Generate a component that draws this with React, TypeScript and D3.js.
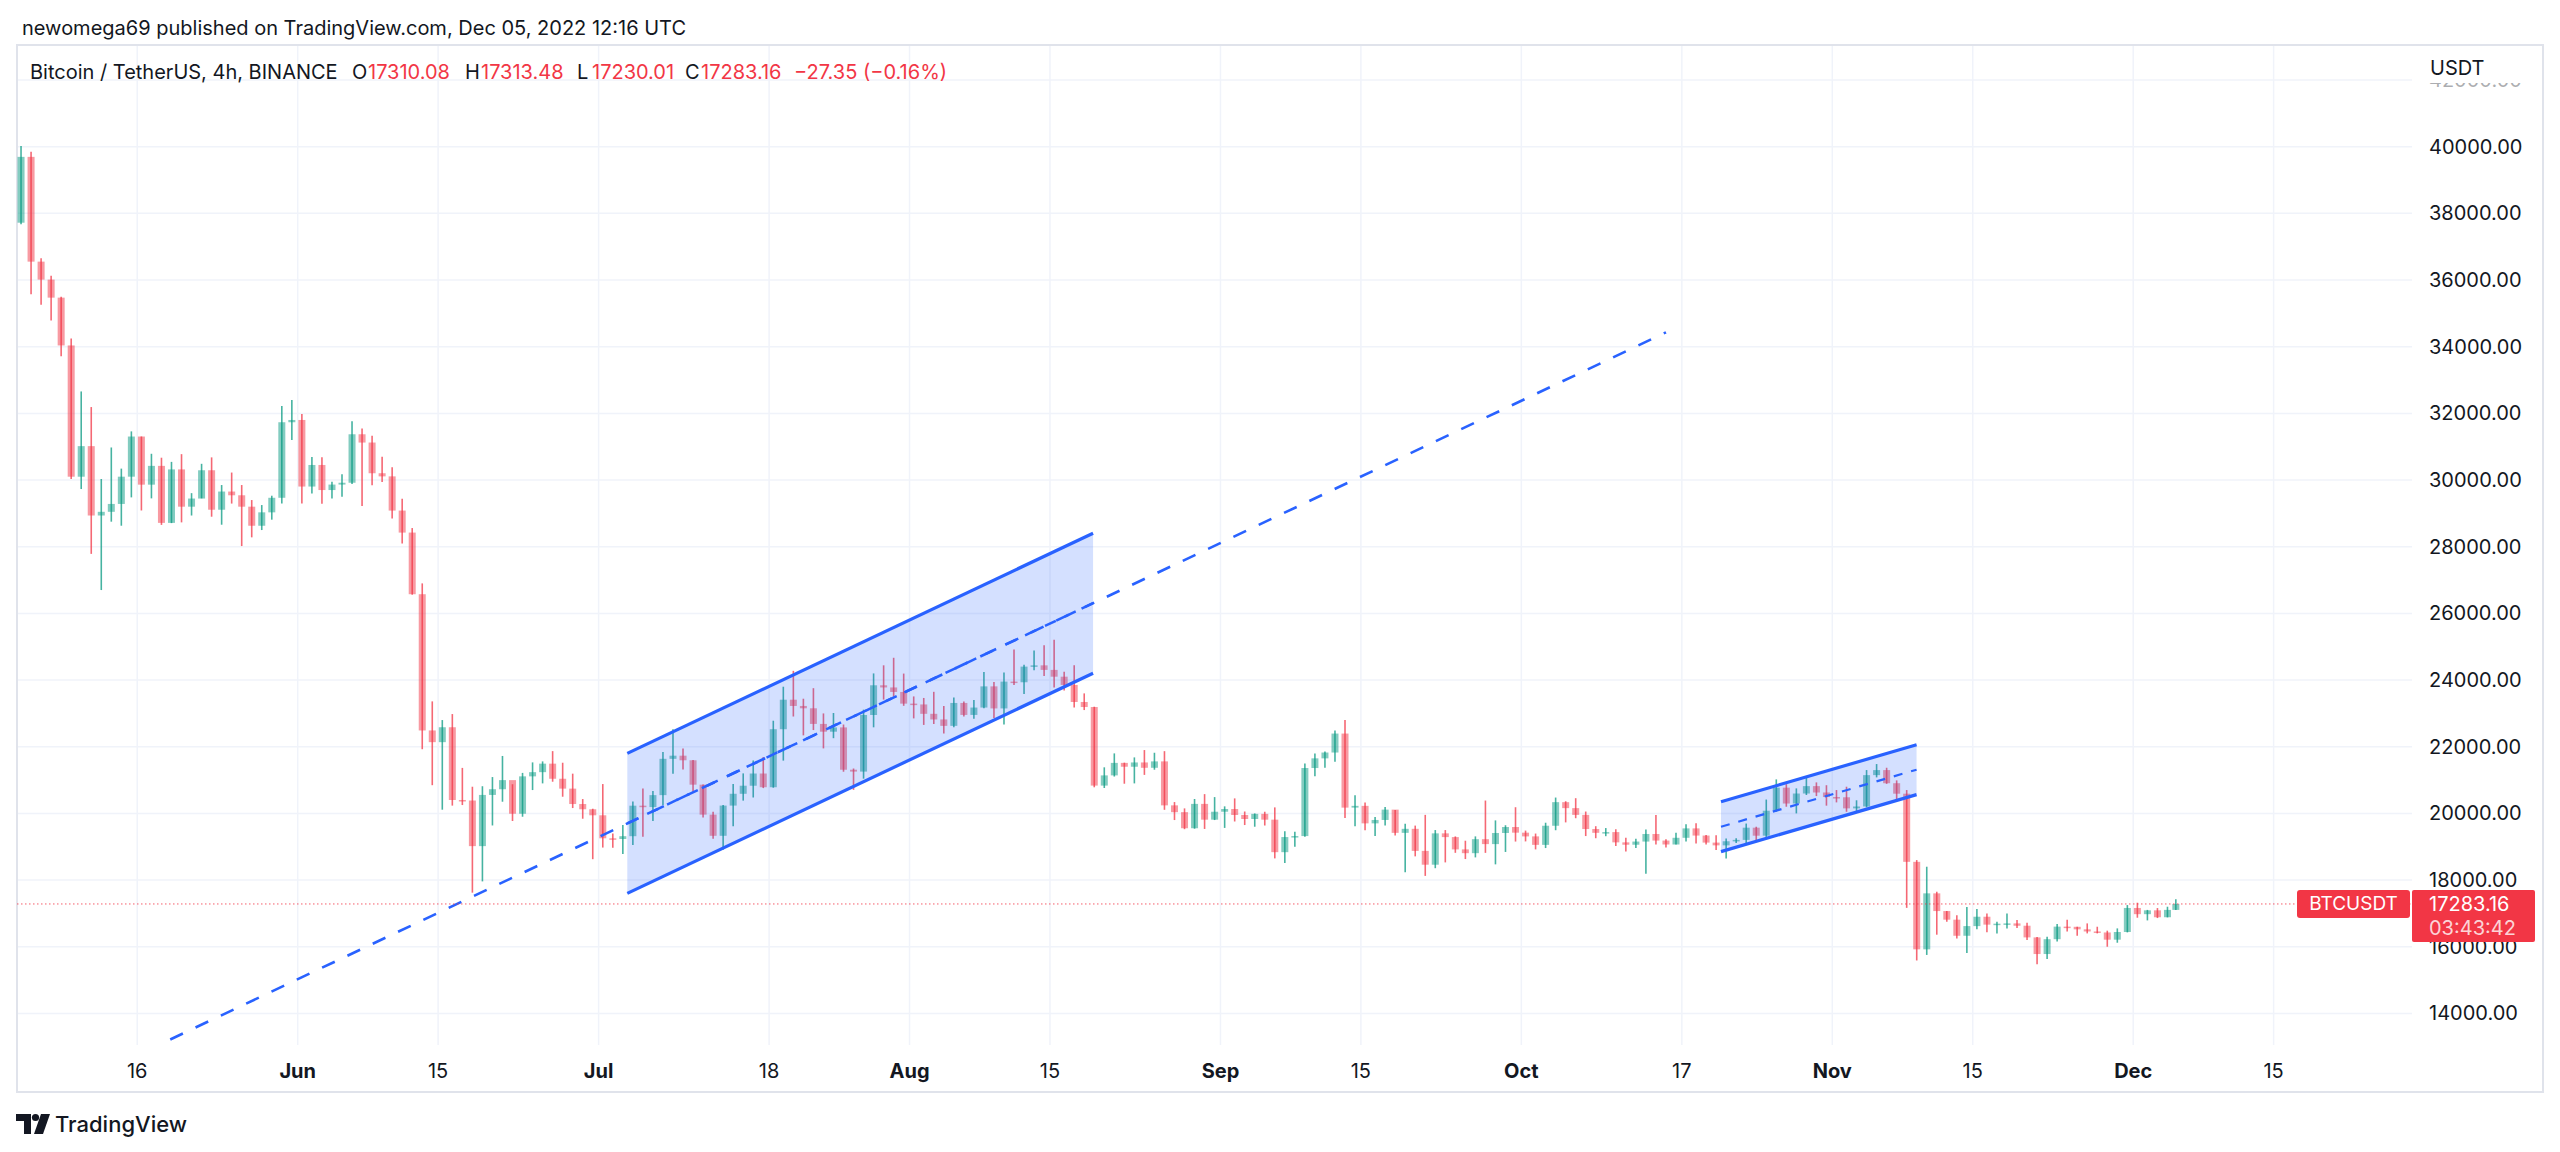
import React from "react";
import * as d3 from "d3";

// ---------- DATA (daily candles) ----------
const START_DATE = "2022-05-04";
const FIRST_OPEN = 37720;
const HIGHS = [
  40023, 39845, 36650, 36130, 35500, 34243, 32658, 32190, 30032, 30977, 30343, 31460, 31308, 30788, 30670, 30545, 30777, 29607, 30487, 30680, 29850, 30225, 29850, 29400, 29250, 29530, 32222, 32400,
  31982, 30690, 30683, 29950, 30176, 31765, 31550, 31327, 30700, 30386, 29440, 28560, 26900, 23360, 22800, 22980, 21365, 20800, 20815, 21090, 21723, 20875, 21215, 21530, 21560, 21868, 21520, 21192, 20430, 20140,
  20880, 19400, 19650, 20354, 20750, 20675, 21838, 22527, 21950, 21600, 20863, 20046, 20250, 20880, 21200, 21588, 21689, 22780, 23800, 24276, 23440, 23756, 22999, 23012, 22666, 21347, 23112, 24199, 24442, 24668, 24194,
  23509, 23463, 23647, 23223, 23480, 23354, 23400, 24245, 23942, 24226, 24918, 24456, 24888, 25047, 25212, 24247, 24446, 23600, 23200, 21382, 21800, 21522, 21680, 21900, 21819, 21867, 20340, 20150, 20432, 20578, 20489,
  20211, 20450, 20057, 19999, 20050, 20180, 19463, 19453, 21500, 21800, 21860, 22488, 22799, 20543, 20330, 19890, 20190, 20100, 19690, 19634, 19956, 19500, 19500, 19310, 19180, 19310, 20385, 19790, 19645, 20185,
  19484, 19395, 19720, 20475, 20365, 20456, 20056, 19616, 19560, 19525, 19270, 19240, 19515, 19950, 19226, 19420, 19676, 19706, 19350, 19345, 19250, 19257, 19695, 19600, 20415, 21020, 20877, 20750, 21085, 20930, 20845,
  20700, 20800, 20393, 21300, 21480, 21369, 20990, 20700, 18600, 18400, 17650, 17070, 16946, 17190, 17134, 17000, 16750, 17000, 16800, 16720, 16290, 16300, 16680, 16812, 16600, 16700, 16600, 16482, 16550, 17250,
  17320, 17105, 17160, 17200, 17425,
];
const LOWS = [
  37670, 35571, 35258, 34785, 33714, 30033, 29730, 27785, 26700, 28751, 28630, 29480, 29087, 29450, 28654, 28708, 28730, 28936, 29450, 28900, 28660, 29294, 28020, 28281, 28500, 28811, 29300, 31200,
  29300, 29594, 29290, 29450, 29500, 29880, 29218, 29843, 29944, 28850, 28100, 26560, 21925, 20846, 20111, 20233, 20250, 17622, 17960, 19638, 20350, 19771, 19900, 20700, 20900, 20950, 20500, 20160, 19840, 18626,
  18975, 18966, 18781, 19050, 19300, 19770, 20250, 21188, 21320, 20650, 19875, 19237, 18910, 19616, 20383, 20477, 20758, 20770, 21583, 22906, 22341, 22500, 21950, 22256, 21250, 20706, 21042, 22582, 23414, 23503, 23227,
  22850, 22654, 22681, 22400, 22586, 22910, 22840, 23154, 22865, 22664, 23852, 23580, 24292, 24124, 23773, 23685, 23180, 23100, 20783, 20761, 21105, 20890, 20900, 21155, 21310, 20107, 19800, 19526, 19540, 19533, 19800,
  19564, 19757, 19650, 19600, 19636, 18650, 18510, 19000, 19300, 21111, 21366, 21550, 19860, 19618, 19497, 19320, 19638, 19336, 18232, 18711, 18125, 18356, 18530, 18817, 18630, 18680, 18816, 18471, 18843, 19155,
  19160, 18920, 18960, 19495, 19730, 19855, 19320, 19255, 19316, 19020, 18860, 18965, 18190, 19070, 18975, 19065, 19160, 19100, 19070, 18900, 18650, 19115, 19071, 19160, 19243, 20050, 20200, 20000, 20552, 20520, 20232,
  20330, 20048, 20031, 20180, 21080, 20886, 20387, 17166, 15588, 15754, 16361, 16748, 16250, 15815, 16527, 16435, 16400, 16549, 16560, 16200, 15476, 15630, 16160, 16460, 16330, 16400, 16400, 16000, 16120, 16430,
  16870, 16790, 16860, 16880, 17100,
];
const CLOSES = [
  39695, 36552, 36013, 35472, 34038, 30100, 31017, 28936, 29047, 29283, 30101, 31305, 29862, 30425, 28715, 30319, 29201, 29445, 30293, 29110, 29655, 29543, 29201, 28629, 29031, 29468, 31734, 31802,
  29805, 30452, 29700, 29864, 29919, 31373, 31125, 30204, 30110, 29084, 28424, 26575, 22488, 22137, 22584, 20402, 20386, 19018, 20554, 20725, 20998, 19990, 21111, 21237, 21492, 21039, 20743, 20281, 20124, 19943,
  19253, 19232, 19316, 20231, 20190, 20548, 21637, 21731, 21593, 20862, 19963, 19328, 20234, 20588, 20830, 21196, 20785, 22525, 23410, 23223, 23153, 22684, 22451, 22579, 21310, 21254, 22952, 23843, 23778, 23643, 23293,
  23268, 22987, 22818, 22626, 23313, 22954, 23175, 23810, 23149, 23954, 23934, 24403, 24441, 24305, 24101, 23854, 23342, 23191, 20834, 21140, 21515, 21400, 21528, 21368, 21560, 20241, 20037, 19555, 20285, 19812, 20050,
  20131, 19952, 19832, 19986, 19812, 18837, 19290, 19320, 21361, 21651, 21826, 22395, 20173, 20226, 19701, 19803, 20113, 19416, 19537, 18875, 18461, 19401, 19289, 18920, 18807, 19226, 19079, 19412, 19591, 19422,
  19310, 19056, 19629, 20337, 20158, 19955, 19531, 19417, 19439, 19131, 19060, 19155, 19382, 19185, 19067, 19268, 19550, 19335, 19124, 19041, 19164, 19205, 19571, 19331, 20080, 20772, 20296, 20596, 20818, 20627, 20491,
  20483, 20151, 20207, 21148, 21299, 20905, 20591, 18547, 15922, 17601, 17070, 16812, 16329, 16619, 16900, 16663, 16692, 16700, 16630, 16280, 15781, 16226, 16603, 16598, 16522, 16458, 16428, 16212, 16442, 17163,
  16977, 17092, 16885, 17105, 17283.16,
];

const PRICE_TICKS = [14000, 16000, 18000, 20000, 22000, 24000, 26000, 28000, 30000, 32000, 34000, 36000, 38000, 40000, 42000];
const TIME_TICKS = [
  { date: "2022-05-16", label: "16", major: false },
  { date: "2022-06-01", label: "Jun", major: true },
  { date: "2022-06-15", label: "15", major: false },
  { date: "2022-07-01", label: "Jul", major: true },
  { date: "2022-07-18", label: "18", major: false },
  { date: "2022-08-01", label: "Aug", major: true },
  { date: "2022-08-15", label: "15", major: false },
  { date: "2022-09-01", label: "Sep", major: true },
  { date: "2022-09-15", label: "15", major: false },
  { date: "2022-10-01", label: "Oct", major: true },
  { date: "2022-10-17", label: "17", major: false },
  { date: "2022-11-01", label: "Nov", major: true },
  { date: "2022-11-15", label: "15", major: false },
  { date: "2022-12-01", label: "Dec", major: true },
  { date: "2022-12-15", label: "15", major: false },
];

// drawings
const TREND_LINE = [
  { date: "2022-05-19T07:00:00Z", price: 13217 },
  { date: "2022-10-15T10:00:00Z", price: 34430 },
];
const CHANNEL_1 = { from: { date: "2022-07-03T20:40:00Z", mid: 19700 }, to: { date: "2022-08-19T07:10:00Z", mid: 26306 }, half: 2100 };
const CHANNEL_2 = { from: { date: "2022-10-20T21:40:00Z", mid: 19600 }, to: { date: "2022-11-09T09:40:00Z", mid: 21311 }, half: 748 };

const LAST_PRICE = 17283.16;
const HEADER = "newomega69 published on TradingView.com, Dec 05, 2022 12:16 UTC";

// ---------- LAYOUT ----------
const W = 2560, H = 1152;
const FRAME = { x0: 17, y0: 45, x1: 2543, y1: 1092 };
const PLOT = { x0: 17, y0: 45, x1: 2412, y1: 1045 };
const FONT = "Inter, 'Noto Sans', sans-serif";
const UP = "#089981";
const DOWN = "#f23645";
const BLUE = "#2962ff";
const TEXT = "#131722";

const x = d3.scaleUtc()
  .domain([new Date("2022-06-01T00:00:00Z"), new Date("2022-12-01T00:00:00Z")])
  .range([297.7, 2133.2]);
const y = d3.scaleLinear().domain([14000, 40000]).range([1013.4, 146.7]);

const DAY = 86400000;
const start = new Date(START_DATE + "T00:00:00Z").getTime();
const candles = CLOSES.map((c, i) => ({
  t: new Date(start + i * DAY + (i === CLOSES.length - 1 ? 6 : 10) * 3600000),
  o: i === 0 ? FIRST_OPEN : CLOSES[i - 1],
  h: HIGHS[i],
  l: LOWS[i],
  c,
}));

function channelPath(ch: typeof CHANNEL_1, off: number) {
  const a = new Date(ch.from.date), b = new Date(ch.to.date);
  return [[x(a), y(ch.from.mid + off)], [x(b), y(ch.to.mid + off)]] as [number, number][];
}

function Channel({ ch, midDash, midWidth }: { ch: typeof CHANNEL_1; midDash: string; midWidth: number }) {
  const up = channelPath(ch, ch.half);
  const lo = channelPath(ch, -ch.half);
  const mid = channelPath(ch, 0);
  const line = d3.line();
  const poly = `M${up[0]}L${up[1]}L${lo[1]}L${lo[0]}Z`;
  return (
    <g>
      <path d={poly} fill={BLUE} fillOpacity={0.2} />
      <path d={line(up) || ""} stroke={BLUE} strokeWidth={3.2} fill="none" />
      <path d={line(lo) || ""} stroke={BLUE} strokeWidth={3.2} fill="none" />
      <path d={line(mid) || ""} stroke={BLUE} strokeWidth={midWidth} strokeDasharray={midDash} fill="none" />
    </g>
  );
}

export default function App() {
  const trend = TREND_LINE.map((p) => [x(new Date(p.date)), y(p.price)] as [number, number]);
  const lastY = y(LAST_PRICE);
  return (
    <svg width={W} height={H} style={{ position: "absolute", left: 0, top: 0, background: "#fff" }} fontFamily={FONT}>
      <defs>
        <clipPath id="plot">
          <rect x={PLOT.x0} y={PLOT.y0} width={PLOT.x1 - PLOT.x0} height={PLOT.y1 - PLOT.y0} />
        </clipPath>
        <clipPath id="axis">
          <rect x={PLOT.x1} y={83} width={FRAME.x1 - PLOT.x1} height={PLOT.y1 - 83} />
        </clipPath>
      </defs>
      <rect width={W} height={H} fill="#fff" />

      {/* header */}
      <text x={22} y={28} dominantBaseline="central" fontSize={20} fill={TEXT} textLength={664} lengthAdjust="spacingAndGlyphs">{HEADER}</text>

      {/* grid */}
      <g stroke="#f0f3fa" strokeWidth={1.5}>
        {PRICE_TICKS.map((p) => (
          <line key={p} x1={PLOT.x0} x2={PLOT.x1} y1={y(p)} y2={y(p)} clipPath="url(#plot)" />
        ))}
        {TIME_TICKS.map((t) => (
          <line key={t.date} x1={x(new Date(t.date + "T00:00:00Z"))} x2={x(new Date(t.date + "T00:00:00Z"))} y1={PLOT.y0} y2={PLOT.y1} />
        ))}
      </g>

      {/* frame */}
      <rect x={FRAME.x0} y={FRAME.y0} width={FRAME.x1 - FRAME.x0} height={FRAME.y1 - FRAME.y0} fill="none" stroke="#e0e3eb" strokeWidth={2} />

      <g clipPath="url(#plot)">
        {/* candles */}
        {candles.map((d, i) => {
          const cx = x(d.t);
          const col = d.c >= d.o ? UP : DOWN;
          const top = y(Math.max(d.o, d.c));
          const bot = y(Math.min(d.o, d.c));
          return (
            <g key={i}>
              <line x1={cx} x2={cx} y1={y(d.h)} y2={y(d.l)} stroke={col} strokeWidth={1.6} strokeOpacity={0.75} />
              <rect x={cx - 3.5} width={7} y={top} height={Math.max(1.5, bot - top)} fill={col} fillOpacity={0.5} />
            </g>
          );
        })}

        {/* channels and trend line */}
        <Channel ch={CHANNEL_1} midDash="12 10" midWidth={2.5} />
        <Channel ch={CHANNEL_2} midDash="9 9" midWidth={2.2} />
        <path d={d3.line()(trend) || ""} stroke={BLUE} strokeWidth={2.6} strokeDasharray="14 14" fill="none" />

        {/* last price line */}
        <line x1={PLOT.x0} x2={PLOT.x1} y1={lastY} y2={lastY} stroke={DOWN} strokeWidth={1} strokeDasharray="1.5 2.5" strokeOpacity={0.8} />
      </g>

      {/* legend */}
      <text y={72} dominantBaseline="central" fontSize={20} fill={TEXT}>
        <tspan x={30}>Bitcoin / TetherUS, 4h, BINANCE</tspan>
        <tspan x={352}>O</tspan><tspan x={368} fill={DOWN}>17310.08</tspan>
        <tspan x={465}>H</tspan><tspan x={481} fill={DOWN}>17313.48</tspan>
        <tspan x={577}>L</tspan><tspan x={592} fill={DOWN}>17230.01</tspan>
        <tspan x={685}>C</tspan><tspan x={701} fill={DOWN}>17283.16</tspan>
        <tspan x={794} fill={DOWN}>−27.35 (−0.16%)</tspan>
      </text>

      {/* price axis */}
      <g clipPath="url(#axis)" fontSize={20} fill={TEXT}>
        {PRICE_TICKS.map((p) => (
          <text key={p} x={2429} y={y(p)} dominantBaseline="central" opacity={p > 40000 ? 0.35 : 1}>{p.toFixed(2)}</text>
        ))}
      </g>
      <text x={2430} y={68} dominantBaseline="central" fontSize={20} fill={TEXT}>USDT</text>

      {/* last price labels */}
      <rect x={2297} y={lastY - 14} width={113} height={28} rx={3} fill={DOWN} />
      <text x={2353.5} y={lastY} dominantBaseline="central" textAnchor="middle" fontSize={19} fill="#fff">BTCUSDT</text>
      <rect x={2412} y={lastY - 14} width={123} height={52} rx={2} fill={DOWN} />
      <text x={2429} y={lastY} dominantBaseline="central" fontSize={20} fill="#fff">{LAST_PRICE.toFixed(2)}</text>
      <text x={2429} y={lastY + 24} dominantBaseline="central" fontSize={20} fill="#fff" fillOpacity={0.8}>03:43:42</text>

      {/* time axis */}
      <g fontSize={20} fill={TEXT} textAnchor="middle">
        {TIME_TICKS.map((t) => (
          <text key={t.date} x={x(new Date(t.date + "T00:00:00Z"))} y={1071} dominantBaseline="central" fontWeight={t.major ? 700 : 400}>{t.label}</text>
        ))}
      </g>

      {/* TradingView logo */}
      <g fill={TEXT}>
        <path d="M16 1114 H31 V1134 H24 V1121 H16 Z" />
        <circle cx={35.5} cy={1117.5} r={3.6} />
        <path d="M41 1114 H50 L43 1134 H34 Z" />
        <text x={55} y={1124} dominantBaseline="central" fontSize={22} fontWeight={500}>TradingView</text>
      </g>
    </svg>
  );
}
